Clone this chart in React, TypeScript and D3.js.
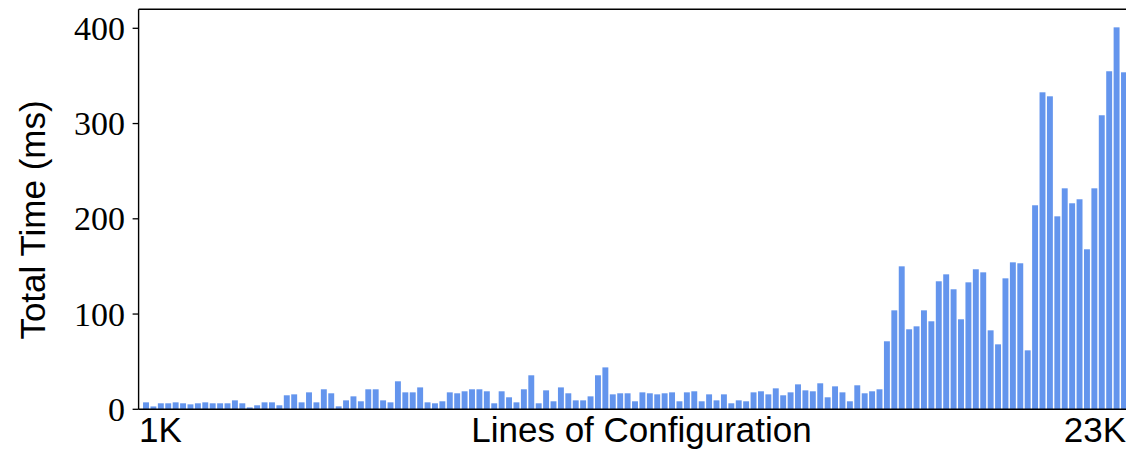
import React from "react";
import * as d3 from "d3";

const values: number[] = [
  7.3, 3, 6.3, 6.3, 7.3, 6.3, 5.2, 6.3, 7.3, 6.3,
  6.3, 6.3, 9.4, 6.3, 2, 4.2, 7.3, 7.3, 4.2, 14.7,
  15.7, 7.3, 17.8, 7.3, 21, 16.8, 3.1, 9.4, 13.6, 8.4,
  21, 21, 9.4, 7.3, 29.4, 17.8, 17.8, 23, 7.3, 6.3,
  8.4, 17.8, 16.8, 18.9, 21, 21, 18.9, 6.3, 18.9, 12.6,
  7.3, 21, 35.7, 6.3, 19.9, 8.4, 23, 16.8, 9.4, 9.4,
  13.6, 35.7, 44, 15.7, 16.8, 16.8, 8.4, 17.8, 16.8, 15.7,
  16.8, 17.8, 8.4, 17.8, 18.9, 8.4, 15.7, 9.4, 15.7, 6.3,
  9.4, 8.4, 17.8, 18.9, 15.7, 22, 14.7, 17.8, 26.2, 19.9,
  18.9, 27.3, 12.6, 24.1, 17.8, 8.4, 25.2, 16.8, 18.9, 21,
  71.4, 103.9, 150.1, 84, 87.1, 103.9, 92.4, 134.4, 141.7, 126,
  94.5, 133.3, 147, 143.8, 82.9, 68.2, 137.5, 154.3, 153.3, 61.9,
  214.2, 332.8, 328.6, 202.6, 232, 216.3, 220.5, 168, 232, 308.7,
  354.9, 401, 353.8,
];

const yTicks: number[] = [0, 100, 200, 300, 400];
const xTickLabels: string[] = ["1K", "23K"];
const xLabel = "Lines of Configuration";
const yLabel = "Total Time (ms)";

export default function App() {
  const W = 1126;
  const H = 450;
  const n = values.length;
  const x = d3.scaleLinear().domain([-1, n]).range([138.6, 138.6 + (n + 1) * 7.409]);
  const y = d3.scaleLinear().domain([0, 420]).range([409.3, 9.25]);
  const bw = 0.8;
  const left = x(-1);
  const right = W;
  const top = y(420);
  const bottom = y(0);
  const serif = "'Liberation Serif', 'DejaVu Serif', serif";
  const sans = "'Liberation Sans', Arial, sans-serif";

  return (
    <svg
      width={W}
      height={H}
      style={{ position: "absolute", left: 0, top: 0, background: "#fff" }}
    >
      <rect x={0} y={0} width={W} height={H} fill="#fff" />
      <g>
        {values.map((v, i) => (
          <rect
            key={i}
            x={x(i - bw / 2)}
            y={y(v)}
            width={x(i + bw / 2) - x(i - bw / 2)}
            height={y(0) - y(v)}
            fill="#6495ED"
          />
        ))}
      </g>
      {/* spines */}
      <line x1={left} x2={left} y1={top} y2={bottom} stroke="#000" strokeWidth={1.4} />
      <line x1={left} x2={right} y1={top} y2={top} stroke="#000" strokeWidth={1.4} />
      <line x1={left} x2={right} y1={bottom} y2={bottom} stroke="#000" strokeWidth={1.4} />
      {/* y ticks */}
      {yTicks.map((t) => (
        <g key={t}>
          <line x1={left - 6} x2={left} y1={y(t)} y2={y(t)} stroke="#000" strokeWidth={1.3} />
          <text
            x={125}
            y={y(t)}
            dy="0.34em"
            textAnchor="end"
            fontFamily={serif}
            fontSize={34}
            fill="#000"
          >
            {t}
          </text>
        </g>
      ))}
      {/* x tick labels */}
      <text x={139} y={442} textAnchor="start" fontFamily={sans} fontSize={35} fill="#000">
        {xTickLabels[0]}
      </text>
      <text x={1126} y={442} textAnchor="end" fontFamily={sans} fontSize={35} fill="#000">
        {xTickLabels[1]}
      </text>
      <text x={641.5} y={442} textAnchor="middle" fontFamily={sans} fontSize={35} fill="#000">
        {xLabel}
      </text>
      <text
        transform="translate(45,220) rotate(-90)"
        textAnchor="middle"
        fontFamily={sans}
        fontSize={35}
        fill="#000"
      >
        {yLabel}
      </text>
    </svg>
  );
}
